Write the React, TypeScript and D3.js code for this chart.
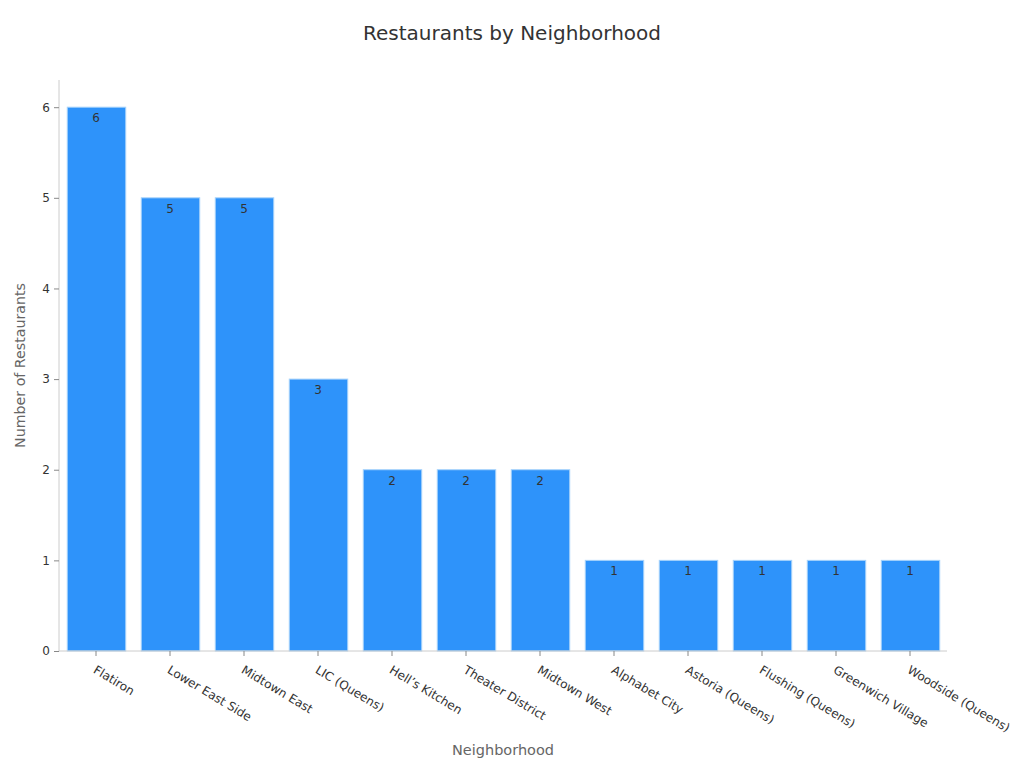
import { useEffect, useRef } from 'react';
import * as d3 from 'd3';

const neighborhoods = [
  'Flatiron',
  'Lower East Side',
  'Midtown East',
  'LIC (Queens)',
  'Hell’s Kitchen',
  'Theater District',
  'Midtown West',
  'Alphabet City',
  'Astoria (Queens)',
  'Flushing (Queens)',
  'Greenwich Village',
  'Woodside (Queens)',
];
const counts = [6, 5, 5, 3, 2, 2, 2, 1, 1, 1, 1, 1];
const yTicks = [0, 1, 2, 3, 4, 5, 6];

const WIDTH = 1024;
const HEIGHT = 768;
const FONT = '"DejaVu Sans", Verdana, sans-serif';

export default function App() {
  const svgRef = useRef<SVGSVGElement>(null);

  useEffect(() => {
    if (!svgRef.current) return;
    const svg = d3.select(svgRef.current);
    svg.selectAll('*').remove();

    const margin = { top: 80, right: 77, bottom: 117, left: 59 };
    const w = WIDTH - margin.left - margin.right;
    const h = HEIGHT - margin.top - margin.bottom;

    const g = svg.append('g').attr('transform', `translate(${margin.left},${margin.top})`);

    const x = d3.scaleBand<string>().domain(neighborhoods).range([0, w]).paddingInner(0.21).paddingOuter(0.105);
    const y = d3.scaleLinear().domain([0, 6.3]).range([h, 0]);

    // Title
    svg
      .append('text')
      .attr('x', WIDTH / 2)
      .attr('y', 40)
      .attr('text-anchor', 'middle')
      .attr('font-family', FONT)
      .attr('font-size', 20)
      .attr('fill', '#333')
      .text('Restaurants by Neighborhood');

    // Bars
    const data = neighborhoods.map((n, i) => ({ name: n, value: counts[i] }));
    g.selectAll('.bar')
      .data(data)
      .enter()
      .append('rect')
      .attr('x', (d) => x(d.name)! + 0.5)
      .attr('y', (d) => y(d.value))
      .attr('width', x.bandwidth())
      .attr('height', (d) => h - y(d.value))
      .attr('fill', '#2e93fa')
      .attr('stroke', '#a6d2fb')
      .attr('stroke-width', 1);

    // Value labels
    g.selectAll('.val')
      .data(data)
      .enter()
      .append('text')
      .attr('x', (d) => x(d.name)! + x.bandwidth() / 2)
      .attr('y', (d) => y(d.value) + 15)
      .attr('text-anchor', 'middle')
      .attr('font-family', FONT)
      .attr('font-size', 12)
      .attr('fill', '#333')
      .text((d) => d.value);

    // Y axis
    const yAxis = g
      .append('g')
      .call(d3.axisLeft(y).tickValues(yTicks).tickFormat(d3.format('d')).tickSize(5).tickPadding(4));
    yAxis.select('.domain').attr('stroke', '#ccc').attr('d', `M0,0V${h}`);
    yAxis.selectAll('.tick line').attr('stroke', '#888');
    yAxis.selectAll('text').attr('font-family', FONT).attr('font-size', 12).attr('fill', '#333');

    // X axis
    const xAxis = g.append('g').attr('transform', `translate(0,${h})`).call(d3.axisBottom(x).tickSize(5));
    xAxis.select('.domain').attr('stroke', '#ccc').attr('d', `M0,0H${w}`);
    xAxis.selectAll('.tick line').attr('stroke', '#888');
    xAxis
      .selectAll('text')
      .attr('font-family', FONT)
      .attr('font-size', 12)
      .attr('fill', '#333')
      .attr('text-anchor', 'start')
      .attr('x', 0)
      .attr('y', 0)
      .attr('dy', '0.71em')
      .attr('transform', 'translate(1,14) rotate(31)');

    // Axis titles
    svg
      .append('text')
      .attr('x', margin.left + w / 2)
      .attr('y', 755)
      .attr('text-anchor', 'middle')
      .attr('font-family', FONT)
      .attr('font-size', 14.5)
      .attr('fill', '#666')
      .text('Neighborhood');

    svg
      .append('text')
      .attr('transform', `translate(25, ${margin.top + h / 2}) rotate(-90)`)
      .attr('text-anchor', 'middle')
      .attr('font-family', FONT)
      .attr('font-size', 14.2)
      .attr('fill', '#666')
      .text('Number of Restaurants');
  }, []);

  return (
    <svg
      ref={svgRef}
      width={WIDTH}
      height={HEIGHT}
      style={{ position: 'absolute', left: 0, top: 0, background: '#fff' }}
    />
  );
}
